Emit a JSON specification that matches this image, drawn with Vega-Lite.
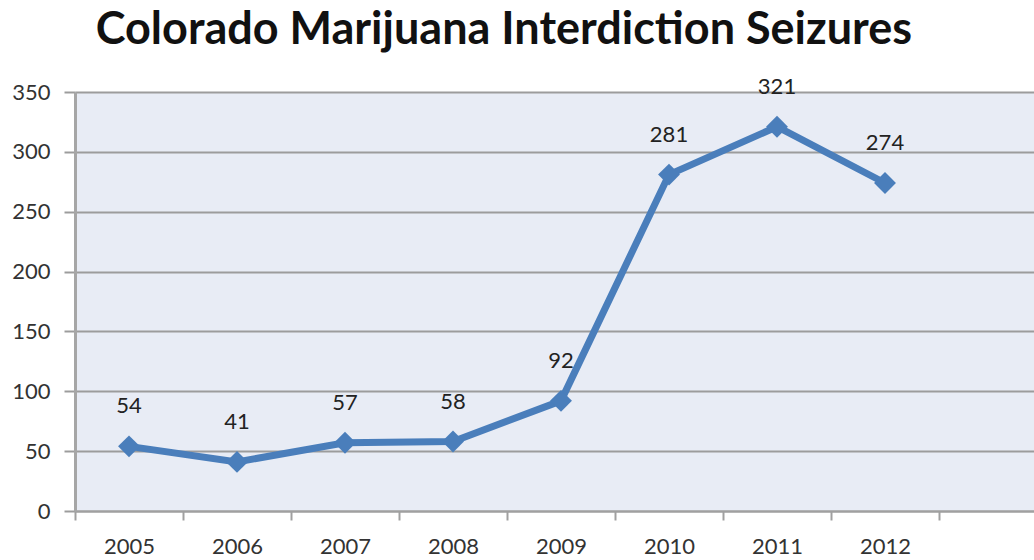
{
  "$schema": "https://vega.github.io/schema/vega-lite/v6.json",
  "autosize": "none",
  "width": 972,
  "height": 419,
  "padding": {"left": 75, "top": 92, "right": 0, "bottom": 49},
  "background": "white",
  "view": {"fill": "#E8ECF5", "stroke": null},
  "title": {
    "text": "Colorado Marijuana Interdiction Seizures",
    "font": "Lato",
    "fontSize": 45,
    "fontWeight": "bold",
    "color": "#111111",
    "anchor": "start",
    "dx": 84,
    "baseline": "bottom",
    "offset": 30,
    "dy": 52
  },
  "data": {
    "values": [
      {"year": "2005", "seizures": 54},
      {"year": "2006", "seizures": 41},
      {"year": "2007", "seizures": 57},
      {"year": "2008", "seizures": 58},
      {"year": "2009", "seizures": 92},
      {"year": "2010", "seizures": 281},
      {"year": "2011", "seizures": 321},
      {"year": "2012", "seizures": 274}
    ]
  },
  "encoding": {
    "x": {
      "field": "year",
      "type": "ordinal",
      "scale": {"type": "band", "domain": ["2005","2006","2007","2008","2009","2010","2011","2012","2013"], "paddingInner": 0, "paddingOuter": 0},
      "axis": {
        "title": null,
        "labelAngle": 0,
        "labelExpr": "datum.value == '2013' ? '' : datum.value",
        "tickBand": "extent",
        "grid": false,
        "domainColor": "#A0A0A0",
        "domainWidth": 2,
        "tickColor": "#A0A0A0",
        "tickWidth": 2,
        "tickSize": 9,
        "labelFont": "Lato",
        "labelFontSize": 22,
        "labelColor": "#333333",
        "labelPadding": 16
      }
    },
    "y": {
      "field": "seizures",
      "type": "quantitative",
      "scale": {"domain": [0, 350], "nice": false},
      "axis": {
        "title": null,
        "values": [0, 50, 100, 150, 200, 250, 300, 350],
        "grid": true,
        "gridColor": "#9C9C9C",
        "gridWidth": 2,
        "gridOpacity": 1,
        "domainColor": "#A6A6A6",
        "domainWidth": 3,
        "tickColor": "#9C9C9C",
        "tickWidth": 2,
        "tickSize": 11,
        "labelFont": "Lato",
        "labelFontSize": 22,
        "labelColor": "#333333",
        "labelPadding": 14
      }
    }
  },
  "layer": [
    {
      "mark": {"type": "line", "color": "#4A7EBB", "strokeWidth": 7},
      "encoding": {}
    },
    {
      "mark": {"type": "point", "shape": "diamond", "filled": true, "color": "#4A7EBB", "size": 480, "opacity": 1},
      "encoding": {}
    },
    {
      "mark": {"type": "text", "font": "Lato", "fontSize": 22, "color": "#222222", "dy": -40, "baseline": "middle"},
      "encoding": {"text": {"field": "seizures", "type": "quantitative"}}
    }
  ]
}
